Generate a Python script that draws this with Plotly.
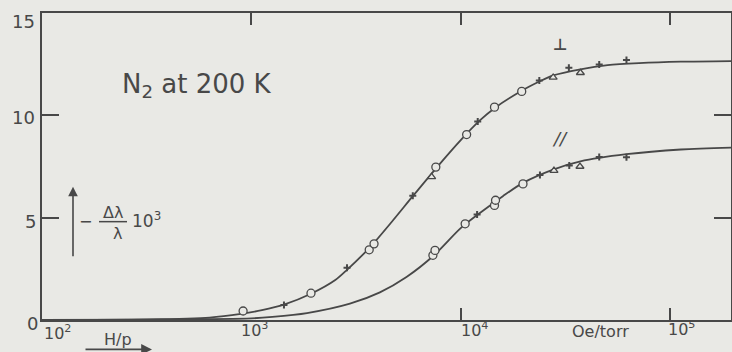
import plotly.graph_objects as go

# ---- data; x given as log10(H/p), H/p in Oe/torr ----
curve_I_log = [2.0, 2.5, 2.8, 2.95, 3.05, 3.155, 3.284, 3.4, 3.456, 3.57, 3.67, 3.77, 3.88,
               4.0, 4.09, 4.16, 4.29, 4.374, 4.44, 4.57, 4.7, 4.85, 5.05, 5.29]
curve_I_val = [0.0, 0.03, 0.12, 0.3, 0.48, 0.75, 1.28, 1.95, 2.45, 3.6, 4.8, 6.05, 7.4,
               8.8, 9.75, 10.35, 11.2, 11.65, 11.95, 12.25, 12.45, 12.55, 12.62, 12.65]

curve_II_log = [2.0, 2.5, 3.0, 3.1, 3.265, 3.47, 3.613, 3.74, 3.87, 4.0, 4.1, 4.2,
                4.296, 4.44, 4.57, 4.79, 5.05, 5.29]
curve_II_val = [0.0, 0.02, 0.08, 0.15, 0.34, 0.8, 1.35, 2.1, 3.15, 4.5, 5.3, 6.05,
                6.7, 7.35, 7.75, 8.1, 8.33, 8.42]

circles_I_log = [2.96, 3.284, 3.562, 3.585, 3.88, 4.027, 4.16, 4.29]
circles_I_val = [0.44, 1.31, 3.43, 3.72, 7.47, 9.06, 10.4, 11.17]
tri_I_log = [3.86, 4.44, 4.57]
tri_I_val = [6.99, 11.85, 12.08]
dots_I_log = [3.155, 3.456, 3.77, 4.08, 4.374, 4.515, 4.66, 4.79]
dots_I_val = [0.73, 2.55, 6.07, 9.7, 11.7, 12.33, 12.48, 12.7]

circles_II_log = [3.866, 3.876, 4.02, 4.16, 4.165, 4.296]
circles_II_val = [3.16, 3.4, 4.7, 5.6, 5.85, 6.65]
dots_II_log = [4.077, 4.377, 4.517, 4.66, 4.79]
dots_II_val = [5.15, 7.08, 7.55, 7.96, 7.95]
tri_II_log = [4.444, 4.568]
tri_II_val = [7.3, 7.5]

x_range_log = [2.0, 5.289]
y_range = [0, 15]

INK = "rgb(72,72,72)"
PAPER = "rgb(233,233,229)"
FONT = "DejaVu Sans"

def hp(logs):
    return [10 ** v for v in logs]

fig = go.Figure()

for lx, ly in [(curve_I_log, curve_I_val), (curve_II_log, curve_II_val)]:
    fig.add_trace(go.Scatter(x=hp(lx), y=ly, mode="lines",
                             line=dict(color=INK, width=1.8, shape="spline", smoothing=0.8),
                             hoverinfo="skip", showlegend=False))

for lx, ly in [(circles_I_log, circles_I_val), (circles_II_log, circles_II_val)]:
    fig.add_trace(go.Scatter(x=hp(lx), y=ly, mode="markers",
                             marker=dict(symbol="circle", size=8, color=PAPER,
                                         line=dict(color=INK, width=1.3)),
                             showlegend=False))
for lx, ly in [(tri_I_log, tri_I_val), (tri_II_log, tri_II_val)]:
    fig.add_trace(go.Scatter(x=hp(lx), y=ly, mode="markers",
                             marker=dict(symbol="triangle-up", size=7, color=PAPER,
                                         line=dict(color=INK, width=1.3)),
                             showlegend=False))
for lx, ly in [(dots_I_log, dots_I_val), (dots_II_log, dots_II_val)]:
    fig.add_trace(go.Scatter(x=hp(lx), y=ly, mode="markers",
                             marker=dict(symbol="cross-thin", size=5, color=INK,
                                         line=dict(color=INK, width=2)),
                             showlegend=False))

# invisible trace to anchor secondary (top/right) axes
fig.add_trace(go.Scatter(x=[1e3], y=[5], xaxis="x2", yaxis="y2", mode="markers",
                         marker=dict(opacity=0), hoverinfo="skip", showlegend=False))

L, T, W, H = 42, 13, 689, 307.5
def px(x):
    return (x - L) / W
def py(y):
    return (T + H - y) / H

fig.update_layout(
    width=732, height=352,
    margin=dict(l=42, r=1, t=13, b=31.5),
    paper_bgcolor=PAPER, plot_bgcolor=PAPER,
    font=dict(family=FONT, color=INK),
    xaxis=dict(type="log", range=x_range_log, showgrid=False, zeroline=False,
               showline=True, linecolor=INK, linewidth=2,
               ticks="inside", ticklen=12, tickwidth=1.6, tickcolor=INK,
               tickvals=[1e4, 1e5], showticklabels=False),
    yaxis=dict(range=y_range, showgrid=False, zeroline=False,
               showline=True, linecolor=INK, linewidth=2,
               ticks="inside", ticklen=17, tickwidth=1.6, tickcolor=INK,
               tickvals=[5, 10], showticklabels=False),
    xaxis2=dict(type="log", range=x_range_log, overlaying="x", side="top",
                showgrid=False, zeroline=False, showline=True, linecolor=INK, linewidth=2,
                ticks="inside", ticklen=12, tickwidth=1.6, tickcolor=INK,
                tickvals=[1e3, 1e4, 1e5], showticklabels=False),
    yaxis2=dict(range=y_range, overlaying="y", side="right",
                showgrid=False, zeroline=False, showline=True, linecolor=INK, linewidth=2,
                ticks="inside", ticklen=17, tickwidth=1.6, tickcolor=INK,
                tickvals=[5, 10], showticklabels=False),
)

def txt(x, y, s, size, **kw):
    fig.add_annotation(x=px(x), y=py(y), xref="paper", yref="paper", text=s,
                       showarrow=False, font=dict(size=size, color=INK, family=FONT),
                       xanchor="center", yanchor="middle", **kw)

# y tick labels
txt(23, 22, "15", 18)
txt(23, 118, "10", 18)
txt(30, 222, "5", 18)
txt(32, 324, "0", 18)
# x tick labels
txt(57, 333, "10<sup>2</sup>", 16)
txt(254, 330, "10<sup>3</sup>", 16)
txt(474, 330, "10<sup>4</sup>", 16)
txt(681, 329, "10<sup>5</sup>", 16)
txt(118, 340, "H/p", 16)
txt(600, 332, "Oe/torr", 16)

# title inside plot
txt(197, 86, "N<sub>2</sub> at 200 K", 26)

# curve labels
txt(560, 45, "<b>⊥</b>", 16)
txt(560, 139, "<i>//</i>", 18)

# y axis label
txt(85, 222, "−", 16)
txt(113, 213, "Δλ", 16)
txt(117, 234, "λ", 16)
txt(146, 220, "10<sup>3</sup>", 17)
fig.add_shape(type="line", xref="paper", yref="paper",
              x0=px(99), x1=px(127), y0=py(222), y1=py(222),
              line=dict(color=INK, width=1.5))

# vertical arrow
fig.add_annotation(x=px(73), y=py(187), xref="paper", yref="paper", text="",
                   showarrow=True, ax=0, ay=71, axref="pixel", ayref="pixel",
                   arrowhead=2, arrowsize=1.2, arrowwidth=1.6, arrowcolor=INK)
# horizontal arrow under H/p
fig.add_annotation(x=px(152), y=py(350), xref="paper", yref="paper", text="",
                   showarrow=True, ax=-68, ay=0, axref="pixel", ayref="pixel",
                   arrowhead=2, arrowsize=1.2, arrowwidth=1.8, arrowcolor=INK)

fig.write_html("out.html")
